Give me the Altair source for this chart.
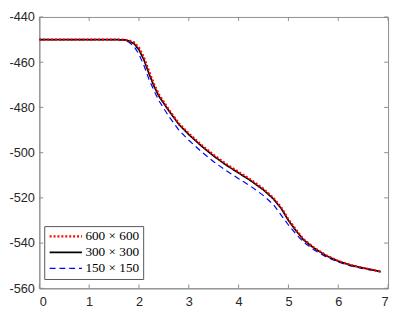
import altair as alt
import pandas as pd

# ---- data ----
x_vals = [0, 0.5, 1.0, 1.5, 1.7, 1.8, 1.9, 2.0, 2.1, 2.2, 2.3, 2.4, 2.6, 2.8, 3.0,
          3.25, 3.5, 3.75, 4.0, 4.25, 4.5, 4.7, 4.85, 5.0, 5.15, 5.3, 5.5, 5.75,
          6.0, 6.25, 6.5, 6.85]

y_600 = [-450, -450, -450, -450, -450.05, -450.4, -451.2, -453.5, -457.8, -463.8,
         -469.5, -474.2, -481, -487, -491.5, -496.5, -501, -505, -508.5, -512,
         -516, -520, -524, -529.5, -534, -538.2, -541.8, -545.3, -547.9, -549.7,
         -551, -552.6]
y_300 = [-450, -450, -450, -450, -450.1, -450.6, -451.8, -454.5, -459, -465,
         -470.5, -475, -481.5, -487.5, -492, -497, -501.5, -505.5, -509, -512.5,
         -516.5, -520.5, -524.5, -530, -534.5, -538.5, -542, -545.5, -548, -549.8,
         -551, -552.6]
y_150 = [-450, -450, -450, -450, -450.3, -451.2, -453, -456.5, -461.5, -467.5,
         -472.5, -477, -484, -490, -494.5, -499.5, -504, -508, -511.5, -515,
         -519, -523, -527.5, -532, -536, -539.5, -542.8, -546, -548.4, -550.1,
         -551.3, -552.8]

series_names = ["600 \u00d7 600", "300 \u00d7 300", "150 \u00d7 150"]
series_colors = ["#ff0000", "#000000", "#0000ff"]
series_dash = [[2, 2], [1, 0], [6, 4]]
series_width = [2.2, 1.2, 1.2]

x_ticks = [0, 1, 2, 3, 4, 5, 6, 7]
y_ticks = [-440, -460, -480, -500, -520, -540, -560]

# ---- build table (blue first, red last so red draws on top) ----
rows = []
for name, ys, order in [(series_names[2], y_150, 0), (series_names[1], y_300, 1), (series_names[0], y_600, 2)]:
    for xv, yv in zip(x_vals, ys):
        rows.append({"series": name, "x": xv, "y": yv, "ord": order})
df = pd.DataFrame(rows)

W, H = 356, 277
AX = "#8c8c8c"
TXT = "#262626"

xs = alt.Scale(domain=[0, 7], nice=False, zero=False)
ys = alt.Scale(domain=[-560, -440], nice=False, zero=False)

legend = alt.Legend(
    title=None, orient="none", legendX=5, legendY=213.5,
    symbolType="stroke", symbolSize=1089, labelFont="Liberation Serif",
    labelFontSize=13.5, labelColor="#000000", labelOffset=2,
    strokeColor="#555555", fillColor="white", padding=4, rowPadding=2.3,
    clipHeight=13, cornerRadius=0,
)

lines = alt.Chart(df).mark_line(clip=True).encode(
    x=alt.X("x:Q", scale=xs, axis=alt.Axis(values=x_ticks, title=None, ticks=False,
                                            labelPadding=8, grid=False,
                                            labelExpr="'' + datum.value")),
    y=alt.Y("y:Q", scale=ys, axis=alt.Axis(values=y_ticks, title=None, ticks=False,
                                            labelPadding=5, grid=False,
                                            labelExpr="'' + datum.value")),
    color=alt.Color("series:N", scale=alt.Scale(domain=series_names, range=series_colors), legend=legend),
    strokeDash=alt.StrokeDash("series:N", scale=alt.Scale(domain=series_names, range=series_dash), legend=legend),
    strokeWidth=alt.StrokeWidth("series:N", scale=alt.Scale(domain=series_names, range=series_width), legend=legend),
    detail="ord:O",
    order="ord:O",
)

xt = pd.DataFrame({"t": x_ticks})
yt = pd.DataFrame({"t": y_ticks})

bottom_ticks = alt.Chart(xt).mark_rule(color=AX, strokeWidth=1).encode(
    x=alt.X("t:Q", scale=xs), y=alt.value(H), y2=alt.value(H - 4))
top_ticks = alt.Chart(xt).mark_rule(color=AX, strokeWidth=1).encode(
    x=alt.X("t:Q", scale=xs), y=alt.value(0), y2=alt.value(4))
left_ticks = alt.Chart(yt).mark_rule(color=AX, strokeWidth=1).encode(
    y=alt.Y("t:Q", scale=ys), x=alt.value(0), x2=alt.value(4))
right_ticks = alt.Chart(yt).mark_rule(color=AX, strokeWidth=1).encode(
    y=alt.Y("t:Q", scale=ys), x=alt.value(W), x2=alt.value(W - 4))

chart = alt.layer(bottom_ticks, top_ticks, left_ticks, right_ticks, lines).properties(
    width=W, height=H,
    autosize=alt.AutoSizeParams(type="none"),
    padding={"left": 32, "top": 6, "right": 3, "bottom": 20},
).configure_view(
    stroke=AX, strokeWidth=1
).configure_axis(
    domainColor=AX, labelColor=TXT, labelFont="Liberation Sans", labelFontSize=13,
)

chart.save("out.html", embed_options={"renderer": "svg", "actions": False})
